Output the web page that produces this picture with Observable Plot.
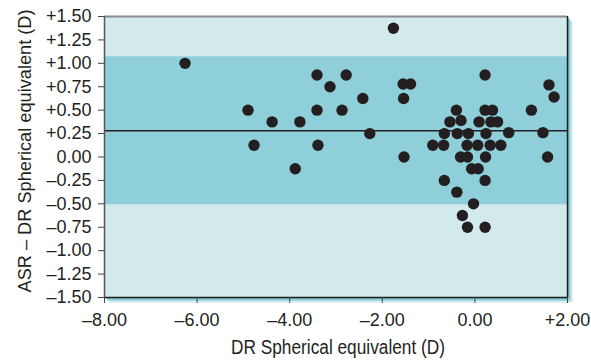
<!DOCTYPE html>
<html>
<head>
<meta charset="utf-8">
<script src="https://cdn.jsdelivr.net/npm/d3@7"></script>
<script src="https://cdn.jsdelivr.net/npm/@observablehq/plot@0.6"></script>
<style>
  html, body { margin: 0; padding: 0; background: #fff; }
</style>
</head>
<body>
<div id="chart"></div>
<script>
// DR spherical equivalent (D)
const drSE = [
  -6.26, -4.90, -4.77, -4.38, -3.88, -3.78, -3.41, -3.41, -3.39, -3.13,
  -2.87, -2.78, -2.42, -2.27, -1.76,
  0.22, -1.55, -1.39, -1.54, 1.60, 1.71, -0.40, 0.22, 0.38, 1.22,
  -0.54, -0.30, 0.09, 0.345, 0.49, -0.66, -0.38, -0.14, 0.24, 0.73,
  1.47, -0.91, -0.675, -0.17, 0.06, 0.33, 0.56, -1.53, -0.31, -0.16,
  0.23, 1.57, -0.07, 0.07, -0.66, 0.22, -0.39, -0.03, -0.27, -0.16, 0.22
];
// ASR - DR spherical equivalent (D)
const diffSE = [
  1.00, 0.50, 0.125, 0.375, -0.125, 0.375, 0.875, 0.50, 0.125, 0.75,
  0.50, 0.875, 0.625, 0.25, 1.375,
  0.875, 0.78, 0.78, 0.625, 0.77, 0.64, 0.50, 0.50, 0.50, 0.50,
  0.375, 0.39, 0.375, 0.375, 0.375, 0.25, 0.25, 0.25, 0.25, 0.26,
  0.26, 0.125, 0.125, 0.125, 0.125, 0.125, 0.125, 0.0, 0.0, 0.0,
  0.0, 0.0, -0.125, -0.125, -0.25, -0.25, -0.375, -0.50, -0.625, -0.75, -0.75
];
const meanDiff = 0.28;
const upperLimit = 1.07;
const lowerLimit = -0.51;

const xTicks = [-8, -6, -4, -2, 0, 2];
const xTickLabels = ["–8.00", "–6.00", "–4.00", "–2.00", "0.00", "+2.00"];
const yTicks = [1.5, 1.25, 1, 0.75, 0.5, 0.25, 0, -0.25, -0.5, -0.75, -1, -1.25, -1.5];
const yTickLabels = ["+1.50", "+1.25", "+1.00", "+0.75", "+0.50", "+0.25", "0.00",
  "–0.25", "–0.50", "–0.75", "–1.00", "–1.25", "–1.50"];
const xTitle = "DR Spherical equivalent (D)";
const yTitle = "ASR – DR Spherical equivalent (D)";

const points = drSE.map((x, i) => ({x, y: diffSE[i]}));
const xLab = new Map(xTicks.map((t, i) => [t, xTickLabels[i]]));
const yLab = new Map(yTicks.map((t, i) => [t, yTickLabels[i]]));
const band = [{lo: lowerLimit, hi: upperLimit}];

const dark = "#231f20";
const font = "'Liberation Sans', Arial, sans-serif";

const chart = Plot.plot({
  width: 591,
  height: 361,
  marginLeft: 104,
  marginRight: 24,
  marginTop: 16,
  marginBottom: 64,
  style: {fontFamily: font, fontSize: "18px", color: dark, background: "#fff"},
  x: {domain: [xTicks[0], xTicks[xTicks.length - 1]]},
  y: {domain: [yTicks[yTicks.length - 1], yTicks[0]]},
  marks: [
    Plot.frame({fill: "#cfe9ed", dx: 5, dy: 5}),
    Plot.frame({fill: "#a6d9e0", dx: 3.5, dy: 3.5}),
    Plot.frame({fill: "#74c1cd", dx: 2, dy: 2}),
    Plot.frame({fill: "#d3eaec"}),
    Plot.rect(band, {x1: xTicks[0], x2: xTicks[xTicks.length - 1], y1: "lo", y2: "hi", fill: "#8ecfd9"}),
    Plot.ruleY([meanDiff], {stroke: dark, strokeWidth: 1.5}),
    Plot.dot(points, {x: "x", y: "y", r: 5.7, fill: dark, stroke: "none"}),
    Plot.ruleY([yTicks[0]], {stroke: "#8a8a8a", strokeWidth: 2}),
    Plot.ruleY([yTicks[yTicks.length - 1]], {stroke: dark, strokeWidth: 1.5}),
    Plot.ruleX([xTicks[0]], {stroke: "#555", strokeWidth: 1.5}),
    Plot.ruleX([xTicks[xTicks.length - 1]], {stroke: dark, strokeWidth: 1.5}),
    Plot.axisX({ticks: xTicks, tickFormat: d => xLab.get(d), tickSize: 6, tickPadding: 10, stroke: "#444", fill: dark, label: null, fontSize: 18}),
    Plot.axisY({ticks: yTicks, tickFormat: d => yLab.get(d), tickSize: 6, tickPadding: 7, stroke: "#444", fill: dark, label: null, fontSize: 18}),
    Plot.text([xTitle], {frameAnchor: "bottom", lineAnchor: "middle", textAnchor: "middle", dy: 50, dx: 2, text: d => d, fontSize: 20, fill: dark}),
    Plot.text([yTitle], {frameAnchor: "left", lineAnchor: "middle", textAnchor: "middle", rotate: -90, dx: -80, dy: -6, text: d => d, fontSize: 19, fill: dark})
  ]
});
// condense the axis titles to match the narrow face of the original
d3.select(chart).selectAll("text").each(function() {
  const t = this.textContent;
  if (t === xTitle) { this.setAttribute("textLength", 214); this.setAttribute("lengthAdjust", "spacingAndGlyphs"); }
  if (t === yTitle) { this.setAttribute("textLength", 283); this.setAttribute("lengthAdjust", "spacingAndGlyphs"); }
});
document.getElementById("chart").appendChild(chart);
</script>
</body>
</html>
